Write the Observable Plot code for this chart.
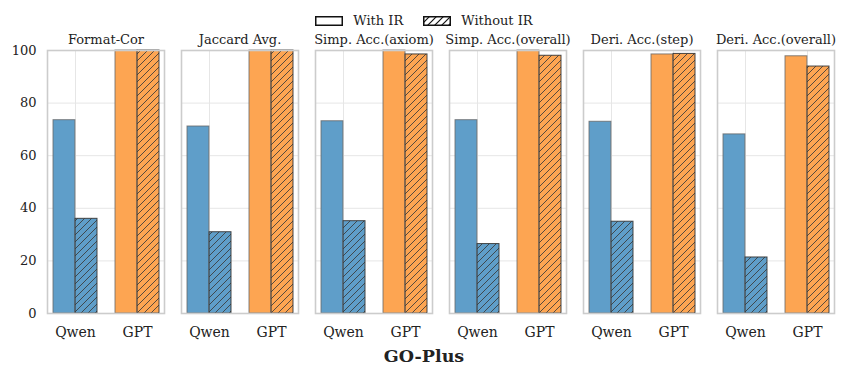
<!DOCTYPE html>
<html>
<head>
<meta charset="utf-8">
<script src="https://cdn.jsdelivr.net/npm/d3@7"></script>
<script src="https://cdn.jsdelivr.net/npm/@observablehq/plot@0.6"></script>
<style>
  body { margin: 0; background: #fff; font-family: "DejaVu Serif", serif; color: #222; }
  #wrap { position: relative; width: 848px; height: 374px; }
  #legend { position: absolute; top: 13px; left: 0; width: 848px; display: flex; justify-content: center; align-items: center; font-size: 13px; }
  #legend .item { display: flex; align-items: center; margin: 0 10px; }
  #legend svg { margin-right: 10px; }
  #caption { position: absolute; top: 346px; left: 0; width: 848px; text-align: center; font-weight: bold; font-size: 17.5px; }
  #chart { position: absolute; top: 0; left: 0; }
</style>
</head>
<body>
<div id="wrap">
  <div id="chart"></div>
  <div id="legend"></div>
  <div id="caption">GO-Plus</div>
</div>
<script>
const metrics = ["Format-Cor", "Jaccard Avg.", "Simp. Acc.(axiom)", "Simp. Acc.(overall)", "Deri. Acc.(step)", "Deri. Acc.(overall)"];
const models = ["Qwen", "GPT"];
const seriesNames = ["With IR", "Without IR"];
const qwenWith    = [73.5, 71.1, 73.1, 73.5, 72.9, 68.1];
const qwenWithout = [36.0, 30.9, 35.1, 26.4, 34.9, 21.3];
const gptWith     = [100, 100, 100, 100, 98.5, 97.8];
const gptWithout  = [100, 100, 98.5, 98.0, 98.7, 93.9];
const yTicks = [0, 20, 40, 60, 80, 100];

const data = [];
metrics.forEach((m, i) => {
  data.push({metric: m, model: "Qwen", series: "With IR", value: qwenWith[i]});
  data.push({metric: m, model: "Qwen", series: "Without IR", value: qwenWithout[i]});
  data.push({metric: m, model: "GPT", series: "With IR", value: gptWith[i]});
  data.push({metric: m, model: "GPT", series: "Without IR", value: gptWithout[i]});
});

const blue = "#5f9ec9";
const orange = "#fda552";
const fillFor = {
  "Qwen|With IR": blue,
  "GPT|With IR": orange,
  "Qwen|Without IR": "url(#hatch-blue)",
  "GPT|Without IR": "url(#hatch-orange)"
};

const barMarks = [];
for (const model of models) {
  for (const s of seriesNames) {
    const withIR = s === "With IR";
    barMarks.push(Plot.barY(data.filter(d => d.model === model && d.series === s), {
      fx: "metric", x: "model", y: "value",
      fill: fillFor[model + "|" + s],
      stroke: withIR ? "#666" : "#333",
      strokeOpacity: withIR ? 0.8 : 0.9,
      strokeWidth: 1,
      insetLeft: withIR ? 0 : 22.1,
      insetRight: withIR ? 22.1 : 0
    }));
  }
}

const plot = Plot.plot({
  width: 848,
  height: 374,
  marginLeft: 45,
  marginRight: 11,
  marginTop: 50,
  marginBottom: 61,
  style: {fontFamily: "DejaVu Serif", color: "#222", background: "#fff"},
  fx: {domain: metrics, paddingInner: 0.126, paddingOuter: 0, label: null},
  x: {domain: models, paddingInner: 0.298, paddingOuter: 0.085, label: null},
  y: {domain: [0, 100], label: null},
  marks: [
    Plot.gridY(yTicks, {stroke: "#e6e6e6", strokeOpacity: 1, strokeWidth: 1}),
    Plot.gridX({stroke: "#e6e6e6", strokeOpacity: 1, strokeWidth: 1}),
    ...barMarks,
    Plot.frame({stroke: "#cccccc", strokeWidth: 1.6}),
    Plot.axisFx({anchor: "top", tickSize: 0, tickPadding: 7, fontSize: 13, label: null}),
    Plot.axisX({tickSize: 0, tickPadding: 13.5, fontSize: 14, label: null}),
    Plot.axisY({ticks: yTicks, tickSize: 0, tickPadding: 11, fontSize: 13, label: null})
  ]
});

function addPatterns(svg, prefix) {
  const ns = "http://www.w3.org/2000/svg";
  const defs = document.createElementNS(ns, "defs");
  const mk = (id, bg) => {
    const p = document.createElementNS(ns, "pattern");
    p.setAttribute("id", id);
    p.setAttribute("patternUnits", "userSpaceOnUse");
    p.setAttribute("width", "7");
    p.setAttribute("height", "7");
    p.innerHTML = `<rect width="7" height="7" fill="${bg}"/>` +
      `<path d="M-1,1 L1,-1 M0,7 L7,0 M6,8 L8,6" stroke="#3a3a3a" stroke-width="1" stroke-opacity="0.85"/>`;
    defs.appendChild(p);
  };
  mk(prefix + "blue", blue);
  mk(prefix + "orange", orange);
  svg.insertBefore(defs, svg.firstChild);
}
addPatterns(plot, "hatch-");
document.getElementById("chart").appendChild(plot);

// legend
const legend = document.getElementById("legend");
const swatch = (fill) => `<svg width="28" height="10"><defs><pattern id="lg-h" patternUnits="userSpaceOnUse" width="7" height="7"><rect width="7" height="7" fill="#fff"/><path d="M-1,1 L1,-1 M0,7 L7,0 M6,8 L8,6" stroke="#111" stroke-width="1.2"/></pattern></defs><rect x="0.75" y="0.75" width="26.5" height="8.5" fill="${fill}" stroke="#111" stroke-width="1.5"/></svg>`;
legend.innerHTML =
  `<div class="item">${swatch("#fff")}<span>${seriesNames[0]}</span></div>` +
  `<div class="item">${swatch("url(#lg-h)")}<span>${seriesNames[1]}</span></div>`;
</script>
</body>
</html>
